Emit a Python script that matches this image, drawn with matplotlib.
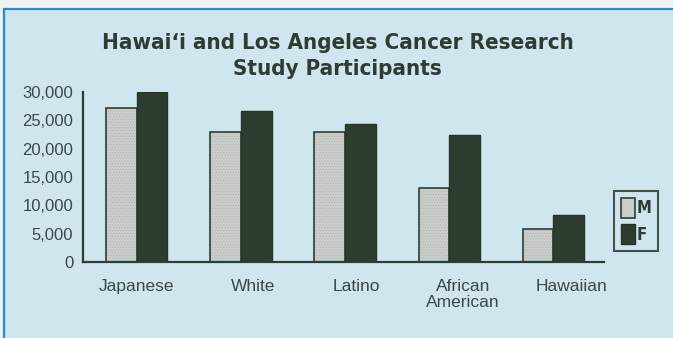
import numpy as np
import matplotlib.pyplot as plt
from matplotlib.patches import Rectangle, Patch

# participants by group, men and women
groups = ["Japanese", "White", "Latino", "African\nAmerican", "Hawaiian"]
men = [27100, 22900, 22900, 13000, 5900]
women = [30000, 26700, 24400, 22500, 8300]
label_pos = [0.0, 1.12, 2.11, 3.13, 4.17]
yticks = [0, 5000, 10000, 15000, 20000, 25000, 30000]

bg = "#d0e6ef"
ink = "#2e3d34"
txt = "#3b4848"
light = "#c9cecb"
dark = "#2c3d2f"

plt.rcParams['font.family'] = ['Liberation Sans', 'DejaVu Sans']
plt.rcParams['hatch.linewidth'] = 0.4

fig = plt.figure(figsize=(6.73, 3.38), dpi=100)
fig.patch.set_facecolor("#eef2f3")

# blue frame round the panel
fig.patches.append(Rectangle((4 / 673, -0.05), 1.0, 1.05 - 9 / 338,
                             transform=fig.transFigure, facecolor=bg,
                             edgecolor="#2b8ad6", linewidth=1.6, zorder=-5))

ax = fig.add_axes([83 / 673, 1 - 262 / 338, 521 / 673, 170 / 338])
ax.set_zorder(2)
ax.set_facecolor("none")

x = np.arange(len(groups))
w = 0.295
ax.bar(x - w / 2, men, w, color=light, hatch="......", edgecolor="#b0b6b3", linewidth=0)
ax.bar(x - w / 2, men, w, fill=False, edgecolor=ink, linewidth=1.2)
ax.bar(x + w / 2, women, w, color=dark, edgecolor="#26352a", linewidth=1.0)

ax.set_xlim(-0.515, 4.485)
ax.set_ylim(0, 30000)
ax.set_yticks(yticks)
ax.set_yticklabels([f"{v:,}" for v in yticks])
ax.set_xticks(label_pos)
ax.set_xticklabels(groups, linespacing=1.1)
ax.tick_params(axis='y', length=0, pad=7, labelsize=12, labelcolor=txt)
ax.tick_params(axis='x', length=0, pad=12, labelsize=12.5, labelcolor=txt)

for s in ["top", "right"]:
    ax.spines[s].set_visible(False)
for s in ["left", "bottom"]:
    ax.spines[s].set_color(ink)
    ax.spines[s].set_linewidth(1.6)

handles = [Patch(facecolor=light, edgecolor=ink, linewidth=1.2, label="M"),
           Patch(facecolor=dark, edgecolor="#26352a", linewidth=1.0, label="F")]
leg = ax.legend(handles=handles, loc="center", bbox_to_anchor=(636 / 673, 1 - 221 / 338),
                bbox_transform=fig.transFigure, frameon=True, fancybox=False,
                handlelength=0.85, handleheight=1.45, handletextpad=0.1,
                labelspacing=0.4, borderpad=0.4, borderaxespad=0,
                prop={'family': 'DejaVu Sans', 'stretch': 'condensed',
                      'weight': 'bold', 'size': 12})
leg.get_frame().set_edgecolor("#1f2a24")
leg.get_frame().set_linewidth(1.5)
leg.get_frame().set_facecolor("none")
for t in leg.get_texts():
    t.set_color(ink)

fig.text(0.502, 1 - 56 / 338,
         "Hawai\u2018i and Los Angeles Cancer Research\nStudy Participants",
         ha="center", va="center", fontsize=16, fontweight="bold", color=ink,
         linespacing=1.35, family='DejaVu Sans', fontstretch='condensed')

fig.savefig("out.png", dpi=100, facecolor=fig.get_facecolor())
